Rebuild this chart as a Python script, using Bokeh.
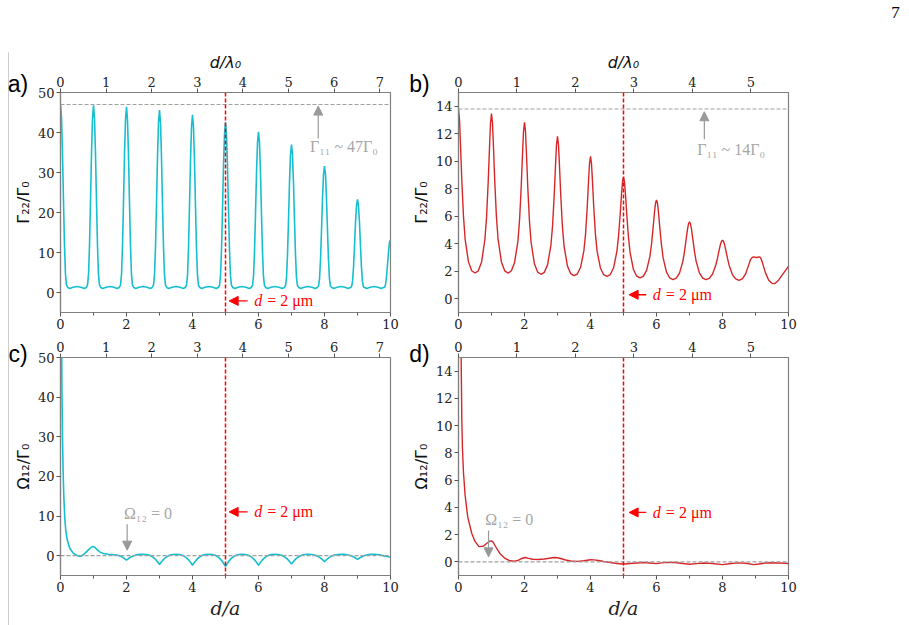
from bokeh.plotting import figure
from bokeh.models import Range1d, LinearAxis, FixedTicker, Span, Label, Arrow, NormalHead
from bokeh.layouts import column, row
from bokeh.embed import file_html
from bokeh.resources import INLINE

# ---------------------------------------------------------------- data
# separation in units of the lattice constant a (bottom axis)
D_TICKS = [0, 2, 4, 6, 8, 10]
D_MINOR = [1, 3, 5, 7, 9]
# top axis d/lambda_0
LAM_TICKS_CYAN = [0, 1, 2, 3, 4, 5, 6, 7]
LAM_MAX_CYAN = 7.234
LAM_TICKS_RED = [0, 1, 2, 3, 4, 5]
LAM_MAX_RED = 5.643
Y_TICKS_CYAN = [0, 10, 20, 30, 40, 50]
Y_TICKS_RED = [0, 2, 4, 6, 8, 10, 12, 14]

# (a) Gamma_22 / Gamma_0, cyan system
GAMMA_CYAN_X = [
    0.00, 0.03, 0.06, 0.09, 0.12, 0.15, 0.18,
    0.22, 0.28, 0.38, 0.50, 0.62, 0.72, 0.78,
    0.82, 0.85, 0.88, 0.91, 0.94, 0.97, 1.00, 1.03, 1.06, 1.09, 1.12, 1.15, 1.18,
    1.22, 1.28, 1.38, 1.50, 1.62, 1.72, 1.78,
    1.82, 1.85, 1.88, 1.91, 1.94, 1.97, 2.00, 2.03, 2.06, 2.09, 2.12, 2.15, 2.18,
    2.22, 2.28, 2.38, 2.50, 2.62, 2.72, 2.78,
    2.82, 2.85, 2.88, 2.91, 2.94, 2.97, 3.00, 3.03, 3.06, 3.09, 3.12, 3.15, 3.18,
    3.22, 3.28, 3.38, 3.50, 3.62, 3.72, 3.78,
    3.82, 3.85, 3.88, 3.91, 3.94, 3.97, 4.00, 4.03, 4.06, 4.09, 4.12, 4.15, 4.18,
    4.22, 4.28, 4.38, 4.50, 4.62, 4.72, 4.78,
    4.82, 4.85, 4.88, 4.91, 4.94, 4.97, 5.00, 5.03, 5.06, 5.09, 5.12, 5.15, 5.18,
    5.22, 5.28, 5.38, 5.50, 5.62, 5.72, 5.78,
    5.82, 5.85, 5.88, 5.91, 5.94, 5.97, 6.00, 6.03, 6.06, 6.09, 6.12, 6.15, 6.18,
    6.22, 6.28, 6.38, 6.50, 6.62, 6.72, 6.78,
    6.82, 6.85, 6.88, 6.91, 6.94, 6.97, 7.00, 7.03, 7.06, 7.09, 7.12, 7.15, 7.18,
    7.22, 7.28, 7.38, 7.50, 7.62, 7.72, 7.78,
    7.82, 7.85, 7.88, 7.91, 7.94, 7.97, 8.00, 8.03, 8.06, 8.09, 8.12, 8.15, 8.18,
    8.22, 8.28, 8.38, 8.50, 8.62, 8.72, 8.78,
    8.82, 8.85, 8.88, 8.91, 8.94, 8.97, 9.00, 9.03, 9.06, 9.09, 9.12, 9.15, 9.18,
    9.22, 9.28, 9.38, 9.50, 9.62, 9.72, 9.78,
    9.82, 9.85, 9.88, 9.91, 9.94, 9.97, 10.00,
]
GAMMA_CYAN_Y = [
    47.0, 43.8, 35.0, 23.1, 12.0, 4.70, 1.90,
    1.25, 1.00, 1.30, 1.50, 1.30, 1.00, 1.25,
    1.92, 4.66, 12.0, 23.0, 34.9, 43.6, 46.8, 43.6, 34.9, 23.0, 12.0, 4.66, 1.92,
    1.25, 1.00, 1.30, 1.50, 1.30, 1.00, 1.25,
    1.91, 4.63, 11.9, 22.8, 34.6, 43.2, 46.4, 43.2, 34.6, 22.8, 11.9, 4.63, 1.91,
    1.25, 1.00, 1.30, 1.50, 1.30, 1.00, 1.25,
    1.89, 4.57, 11.7, 22.4, 34.0, 42.5, 45.6, 42.5, 34.0, 22.4, 11.7, 4.57, 1.89,
    1.25, 1.00, 1.30, 1.50, 1.30, 1.00, 1.25,
    1.87, 4.47, 11.4, 21.8, 33.1, 41.4, 44.4, 41.4, 33.1, 21.8, 11.4, 4.47, 1.87,
    1.25, 1.00, 1.30, 1.50, 1.30, 1.00, 1.25,
    1.83, 4.32, 10.9, 20.9, 31.7, 39.6, 42.5, 39.6, 31.7, 20.9, 10.9, 4.32, 1.83,
    1.25, 1.00, 1.30, 1.50, 1.30, 1.00, 1.25,
    1.78, 4.14, 10.4, 19.8, 30.0, 37.5, 40.2, 37.5, 30.0, 19.8, 10.4, 4.14, 1.78,
    1.25, 1.00, 1.30, 1.50, 1.30, 1.00, 1.25,
    1.72, 3.88, 9.64, 18.3, 27.6, 34.5, 37.0, 34.5, 27.6, 18.3, 9.64, 3.88, 1.72,
    1.25, 1.00, 1.30, 1.50, 1.30, 1.00, 1.25,
    1.61, 3.45, 8.34, 15.7, 23.6, 29.5, 31.6, 29.5, 23.6, 15.7, 8.34, 3.45, 1.61,
    1.25, 1.00, 1.30, 1.50, 1.30, 1.00, 1.25,
    1.45, 2.78, 6.35, 11.7, 17.5, 21.7, 23.3, 21.7, 17.5, 11.7, 6.35, 2.78, 1.45,
    1.25, 1.00, 1.30, 1.50, 1.30, 1.00, 1.25,
    1.25, 2.00, 4.00, 7.00, 10.2, 12.6, 13.2,
]

# (b) Gamma_22 / Gamma_0, red system
GAMMA_RED_X = [
    0.00, 0.03, 0.06, 0.10, 0.15, 0.20, 0.30, 0.40, 0.50,
    0.60, 0.70, 0.80, 0.85, 0.90, 0.94, 0.97, 1.00, 1.03, 1.06, 1.10, 1.15, 1.20, 1.30, 1.40, 1.50,
    1.60, 1.70, 1.80, 1.85, 1.90, 1.94, 1.97, 2.00, 2.03, 2.06, 2.10, 2.15, 2.20, 2.30, 2.40, 2.50,
    2.60, 2.70, 2.80, 2.85, 2.90, 2.94, 2.97, 3.00, 3.03, 3.06, 3.10, 3.15, 3.20, 3.30, 3.40, 3.50,
    3.60, 3.70, 3.80, 3.85, 3.90, 3.94, 3.97, 4.00, 4.03, 4.06, 4.10, 4.15, 4.20, 4.30, 4.40, 4.50,
    4.60, 4.70, 4.80, 4.85, 4.90, 4.94, 4.97, 5.00, 5.03, 5.06, 5.10, 5.15, 5.20, 5.30, 5.40, 5.50,
    5.60, 5.70, 5.80, 5.85, 5.90, 5.94, 5.97, 6.00, 6.03, 6.06, 6.10, 6.15, 6.20, 6.30, 6.40, 6.50,
    6.60, 6.70, 6.80, 6.85, 6.90, 6.94, 6.97, 7.00, 7.03, 7.06, 7.10, 7.15, 7.20, 7.30, 7.40, 7.50,
    7.60, 7.70, 7.80, 7.85, 7.90, 7.94, 7.97, 8.00, 8.03, 8.06, 8.10, 8.15, 8.20, 8.30, 8.40, 8.50,
    8.60, 8.70, 8.80, 8.85, 8.90, 8.95, 9.00, 9.05, 9.10, 9.15, 9.20, 9.30, 9.40, 9.50, 9.55,
    9.60, 9.70, 9.80, 9.90, 10.00,
]
GAMMA_RED_Y = [
    13.75, 13.04, 11.26, 8.64, 6.03, 4.36, 2.70, 2.04, 1.87,
    2.03, 2.68, 4.31, 5.93, 8.48, 11.03, 12.77, 13.47, 12.77, 11.03, 8.48, 5.93, 4.31, 2.68, 2.03, 1.87,
    2.02, 2.64, 4.17, 5.71, 8.12, 10.53, 12.17, 12.83, 12.17, 10.51, 8.08, 5.65, 4.10, 2.55, 1.93, 1.78,
    1.92, 2.48, 3.89, 5.29, 7.50, 9.70, 11.21, 11.81, 11.20, 9.68, 7.45, 5.23, 3.81, 2.39, 1.82, 1.68,
    1.80, 2.29, 3.50, 4.71, 6.62, 8.53, 9.83, 10.35, 9.83, 8.52, 6.60, 4.68, 3.46, 2.24, 1.75, 1.63,
    1.76, 2.25, 3.45, 4.56, 6.15, 7.61, 8.49, 8.84, 8.49, 7.59, 6.11, 4.49, 3.36, 2.14, 1.64, 1.51,
    1.63, 2.06, 3.08, 3.99, 5.24, 6.31, 6.94, 7.18, 6.94, 6.29, 5.19, 3.93, 2.99, 1.95, 1.51, 1.39,
    1.50, 1.88, 2.74, 3.45, 4.35, 5.06, 5.45, 5.60, 5.45, 5.06, 4.35, 3.45, 2.74, 1.88, 1.50, 1.39,
    1.48, 1.80, 2.47, 2.97, 3.55, 3.97, 4.18, 4.26, 4.18, 3.96, 3.54, 2.95, 2.44, 1.76, 1.44, 1.34,
    1.45, 1.80, 2.50, 2.85, 3.00, 3.05, 3.02, 3.00, 3.04, 3.00, 2.70, 1.90, 1.35, 1.12, 1.10,
    1.13, 1.35, 1.70, 2.03, 2.36,
]

# (c) Omega_12 / Gamma_0, cyan system
OMEGA_CYAN_X = [
    0.02, 0.04, 0.06, 0.08, 0.10, 0.13, 0.16, 0.20, 0.25, 0.30, 0.37, 0.45, 0.55, 0.62,
    0.70, 0.80, 0.90, 0.97, 1.03, 1.10, 1.20, 1.30, 1.45, 1.60, 1.70, 1.80, 1.85, 1.90, 1.95,
    2.00, 2.05, 2.10, 2.15, 2.20, 2.30, 2.40, 2.50, 2.60, 2.70, 2.80, 2.85, 2.90, 2.95,
    3.00, 3.05, 3.10, 3.15, 3.20, 3.30, 3.40, 3.50, 3.60, 3.70, 3.80, 3.85, 3.90, 3.95,
    4.00, 4.05, 4.10, 4.15, 4.20, 4.30, 4.40, 4.50, 4.60, 4.70, 4.80, 4.85, 4.90, 4.95,
    5.00, 5.05, 5.10, 5.15, 5.20, 5.30, 5.40, 5.50, 5.60, 5.70, 5.80, 5.85, 5.90, 5.95,
    6.00, 6.05, 6.10, 6.15, 6.20, 6.30, 6.40, 6.50, 6.60, 6.70, 6.80, 6.85, 6.90, 6.95,
    7.00, 7.05, 7.10, 7.15, 7.20, 7.30, 7.40, 7.50, 7.60, 7.70, 7.80, 7.85, 7.90, 7.95,
    8.00, 8.05, 8.10, 8.15, 8.20, 8.30, 8.40, 8.50, 8.60, 8.70, 8.80, 8.85, 8.90, 8.95,
    9.00, 9.05, 9.10, 9.15, 9.20, 9.30, 9.40, 9.50, 9.60, 9.70, 9.80, 9.90, 10.00,
]
OMEGA_CYAN_Y = [
    80.0, 45.0, 30.0, 21.0, 15.0, 9.5, 6.3, 4.2, 2.6, 1.6, 0.8, 0.25, -0.10, -0.15,
    0.30, 1.10, 1.90, 2.30, 2.20, 1.60, 0.90, 0.55, 0.35, 0.25, 0.15, -0.06, -0.26, -0.49, -0.78,
    -1.10, -0.78, -0.49, -0.26, -0.06, 0.21, 0.32, 0.35, 0.30, 0.10, -0.36, -0.72, -1.13, -1.64,
    -2.20, -1.64, -1.13, -0.72, -0.36, 0.10, 0.30, 0.35, 0.30, 0.08, -0.42, -0.81, -1.25, -1.80,
    -2.40, -1.80, -1.25, -0.81, -0.42, 0.08, 0.30, 0.35, 0.29, 0.05, -0.50, -0.93, -1.42, -2.03,
    -2.70, -2.03, -1.42, -0.93, -0.50, 0.05, 0.29, 0.35, 0.30, 0.08, -0.42, -0.81, -1.25, -1.80,
    -2.40, -1.80, -1.25, -0.81, -0.42, 0.08, 0.30, 0.35, 0.30, 0.11, -0.34, -0.68, -1.07, -1.56,
    -2.10, -1.56, -1.07, -0.68, -0.34, 0.11, 0.30, 0.35, 0.31, 0.17, -0.17, -0.43, -0.72, -1.09,
    -1.50, -1.09, -0.72, -0.43, -0.17, 0.17, 0.31, 0.35, 0.32, 0.22, -0.01, -0.20, -0.40, -0.66,
    -0.95, -0.66, -0.40, -0.20, -0.01, 0.22, 0.32, 0.35, 0.30, 0.15, -0.05, -0.20, -0.40,
]

# (d) Omega_12 / Gamma_0, red system
OMEGA_RED_X = [
    0.04, 0.06, 0.08, 0.10, 0.12, 0.15, 0.20, 0.28, 0.40, 0.50, 0.62, 0.75, 0.85, 0.95,
    1.00, 1.05, 1.10, 1.18, 1.26, 1.41, 1.56, 1.70, 1.82, 1.92, 2.02, 2.12, 2.25, 2.42,
    2.60, 2.75, 2.90, 3.00, 3.12, 3.25, 3.40, 3.60, 3.80, 4.00, 4.10, 4.25, 4.40, 4.55,
    4.75, 4.95, 5.05, 5.20, 5.40, 5.60, 5.80, 6.00, 6.15, 6.35, 6.55, 6.80, 7.00, 7.20,
    7.45, 7.70, 8.00, 8.20, 8.45, 8.70, 8.95, 9.10, 9.30, 9.50, 9.75, 10.00,
]
OMEGA_RED_Y = [
    40.0, 22.0, 15.0, 10.5, 8.3, 6.6, 4.9, 3.3, 2.1, 1.5, 1.12, 1.15, 1.35, 1.52,
    1.54, 1.45, 1.22, 0.90, 0.60, 0.25, 0.08, 0.05, 0.12, 0.25, 0.32, 0.26, 0.19, 0.17,
    0.21, 0.27, 0.32, 0.30, 0.23, 0.14, 0.06, 0.04, 0.08, 0.16, 0.15, 0.10, 0.03, -0.03,
    -0.10, -0.16, -0.16, -0.12, -0.08, -0.05, -0.08, -0.13, -0.07, -0.04, -0.05, -0.12, -0.17, -0.13,
    -0.08, -0.12, -0.20, -0.14, -0.07, -0.10, -0.20, -0.16, -0.08, -0.06, -0.08, -0.12,
]

# reference levels
GAMMA11_CYAN = 47.0
GAMMA11_RED = 13.8
D_MARK = 5.0   # d = 2 um in units of a

# ---------------------------------------------------------------- styling
CYAN = "#17becf"
RED = "#d62728"
MARK_RED = "#ff0000"
AXIS_GREY = "#808080"
NOTE_GREY = "#a6a6a6"
TICK_FONT = "DejaVu Serif"
NOTE_FONT = "Liberation Serif"
PAGE_H = 625


def style_axis(ax):
    ax.axis_line_color = AXIS_GREY
    ax.axis_line_width = 1.2
    ax.major_tick_line_color = "#555555"
    ax.minor_tick_line_color = "#555555"
    ax.major_tick_in = 0
    ax.major_tick_out = 4
    ax.minor_tick_in = 0
    ax.minor_tick_out = 3
    ax.major_label_text_font = TICK_FONT
    ax.major_label_text_font_size = "13px"
    ax.major_label_text_color = "#222222"
    ax.major_label_standoff = 2


def make_panel(height, border_top, border_bottom, y_lo, y_hi, y_ticks, lam_max,
               lam_ticks, top_label, bottom_label):
    p = figure(width=368, height=height, x_range=Range1d(0, 10),
               y_range=Range1d(y_lo, y_hi), output_backend="svg",
               toolbar_location=None, min_border_left=25, min_border_right=12,
               min_border_top=border_top, min_border_bottom=border_bottom)
    p.grid.visible = False
    p.outline_line_color = AXIS_GREY
    p.outline_line_width = 1.2
    p.background_fill_color = "white"
    p.border_fill_color = "white"

    bottom = p.below[0]
    bottom.ticker = FixedTicker(ticks=D_TICKS, minor_ticks=D_MINOR)
    style_axis(bottom)
    if bottom_label:
        bottom.axis_label = "d/a"
        bottom.axis_label_text_font = TICK_FONT
        bottom.axis_label_text_font_style = "italic"
        bottom.axis_label_text_font_size = "19px"
        bottom.axis_label_text_color = "#222222"
        bottom.axis_label_standoff = 2

    left = p.left[0]
    left.ticker = FixedTicker(ticks=y_ticks, minor_ticks=[])
    style_axis(left)

    p.extra_x_ranges = {"lam": Range1d(0, lam_max)}
    top = LinearAxis(x_range_name="lam", ticker=FixedTicker(ticks=lam_ticks, minor_ticks=[]))
    style_axis(top)
    if top_label:
        top.axis_label = "d/λ₀"
        top.axis_label_text_font = "DejaVu Sans"
        top.axis_label_text_font_style = "italic"
        top.axis_label_text_font_size = "16px"
        top.axis_label_text_color = "#111111"
        top.axis_label_standoff = 2
    p.add_layout(top, "above")
    return p


def make_strip(width):
    """Blank column used for panel tags and rotated quantity labels (pixel coordinates)."""
    s = figure(width=width, height=PAGE_H, x_range=Range1d(0, width),
               y_range=Range1d(PAGE_H, 0), x_axis_type=None, y_axis_type=None,
               output_backend="svg", toolbar_location=None, min_border=0)
    s.grid.visible = False
    s.outline_line_color = None
    s.background_fill_color = "white"
    s.border_fill_color = "white"
    return s


def add_mark(p, y, tip_x, tail_x, text_x):
    """Red dashed d = 2 um line with its pointer and caption."""
    p.add_layout(Span(location=D_MARK, dimension="height", line_color=MARK_RED,
                      line_dash="4 2", line_width=1.5))
    p.add_layout(Arrow(end=NormalHead(size=9, fill_color=MARK_RED, line_color=MARK_RED),
                       x_start=tail_x, y_start=y, x_end=tip_x, y_end=y,
                       line_color=MARK_RED, line_width=1.3))
    p.add_layout(Label(x=text_x, y=y, text="d", text_font=NOTE_FONT,
                       text_font_style="italic", text_font_size="16px",
                       text_color=MARK_RED, text_baseline="middle", text_align="left"))
    p.add_layout(Label(x=text_x, y=y, x_offset=13, text="= 2 μm", text_font=NOTE_FONT,
                       text_font_size="16px", text_color=MARK_RED,
                       text_baseline="middle", text_align="left"))


def add_note(p, text, tx, ty, ax, ay0, ay1):
    p.add_layout(Label(x=tx, y=ty, text=text, text_font=NOTE_FONT, text_font_size="16px",
                       text_color=NOTE_GREY, text_align="center", text_baseline="middle"))
    p.add_layout(Arrow(end=NormalHead(size=9, fill_color="#999999", line_color="#999999"),
                       x_start=ax, y_start=ay0, x_end=ax, y_end=ay1,
                       line_color="#999999", line_width=1.2))


def add_tag(s, text, x, y):
    s.add_layout(Label(x=x, y=y, text=text, text_font="Liberation Sans",
                       text_font_size="23px", text_color="#000000",
                       text_align="center", text_baseline="middle"))


def add_ylabel(s, text, x, y):
    s.add_layout(Label(x=x, y=y, text=text, angle=90, angle_units="deg",
                       text_font="DejaVu Sans", text_font_size="16px", text_color="#111111",
                       text_align="center", text_baseline="middle"))


# ---------------------------------------------------------------- panels
pa = make_panel(335, 92, 23, -5, 50, Y_TICKS_CYAN, LAM_MAX_CYAN, LAM_TICKS_CYAN, True, False)
pb = make_panel(335, 92, 23, -1, 15, Y_TICKS_RED, LAM_MAX_RED, LAM_TICKS_RED, True, False)
pc = make_panel(290, 22, 50, -5, 50, Y_TICKS_CYAN, LAM_MAX_CYAN, LAM_TICKS_CYAN, False, True)
pd = make_panel(290, 22, 50, -1, 15, Y_TICKS_RED, LAM_MAX_RED, LAM_TICKS_RED, False, True)

# (a)
pa.add_layout(Span(location=GAMMA11_CYAN, dimension="width", line_color="#a0a0a0",
                   line_dash="4 2", line_width=1.2))
pa.line(GAMMA_CYAN_X, GAMMA_CYAN_Y, line_color=CYAN, line_width=1.6)
add_mark(pa, -2.1, 5.11, 5.67, 5.87)
add_note(pa, "Γ₁₁ ~ 47Γ₀", 8.59, 36.4, 7.81, 38.5, 46.6)

# (b)
pb.add_layout(Span(location=GAMMA11_RED, dimension="width", line_color="#a0a0a0",
                   line_dash="4 2", line_width=1.2))
pb.line(GAMMA_RED_X, GAMMA_RED_Y, line_color=RED, line_width=1.4)
add_mark(pb, 0.29, 5.17, 5.69, 5.89)
add_note(pb, "Γ₁₁ ~ 14Γ₀", 8.26, 10.83, 7.45, 11.6, 13.6)

# (c)
pc.add_layout(Span(location=0, dimension="width", line_color="#a0a0a0",
                   line_dash="4 2", line_width=1.2))
pc.line(OMEGA_CYAN_X, OMEGA_CYAN_Y, line_color=CYAN, line_width=1.6)
add_mark(pc, 11.05, 5.11, 5.67, 5.87)
add_note(pc, "Ω₁₂ = 0", 2.65, 10.65, 2.02, 7.9, 1.4)

# (d)
pd.add_layout(Span(location=0, dimension="width", line_color="#a0a0a0",
                   line_dash="4 2", line_width=1.2))
pd.line(OMEGA_RED_X, OMEGA_RED_Y, line_color=RED, line_width=1.4)
add_mark(pd, 3.63, 5.17, 5.69, 5.89)
add_note(pd, "Ω₁₂ = 0", 1.54, 3.12, 0.91, 2.3, 0.37)

# side columns: tags, quantity labels, page rule and page number
left_strip = make_strip(34)
left_strip.add_layout(Arrow(end=None, x_start=8, y_start=52, x_end=8, y_end=PAGE_H,
                            line_color="#cccccc", line_width=1))
add_tag(left_strip, "a)", 17.5, 83)
add_tag(left_strip, "c)", 17.5, 353)
add_ylabel(left_strip, "Γ₂₂/Γ₀", 22.5, 202)
add_ylabel(left_strip, "Ω₁₂/Γ₀", 23, 466)

mid_strip = make_strip(30)
add_tag(mid_strip, "b)", 17, 83)
add_tag(mid_strip, "d)", 17, 353)
add_ylabel(mid_strip, "Γ₂₂/Γ₀", 19, 202)
add_ylabel(mid_strip, "Ω₁₂/Γ₀", 19, 466)

right_strip = make_strip(109)
right_strip.add_layout(Label(x=95, y=12, text="7", text_font=NOTE_FONT, text_font_size="17px",
                             text_color="#000000", text_align="center", text_baseline="middle"))

layout = row(left_strip, column(pa, pc), mid_strip, column(pb, pd), right_strip)
open("out.html", "w").write(file_html(layout, INLINE))
